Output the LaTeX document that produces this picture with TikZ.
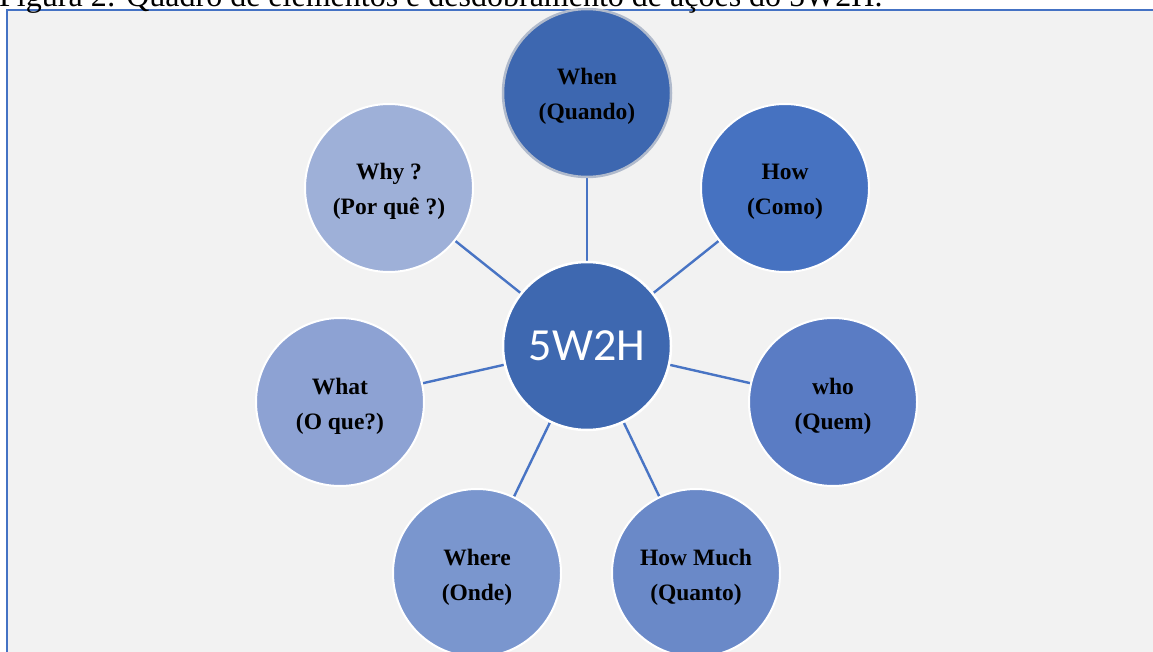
\documentclass[tikz,border=0pt]{standalone}
\usepackage{fontspec}
\setmainfont{Liberation Serif}
\newfontfamily\hubfont{Carlito}
\usetikzlibrary{backgrounds}
\newcommand\liftline{\rule{0pt}{24pt}}
\definecolor{pagegray}{RGB}{242,242,242}
\definecolor{frameblue}{RGB}{68,114,196}
\definecolor{linkblue}{RGB}{72,116,196}
\definecolor{hubfill}{RGB}{62,104,176}
\definecolor{whenfill}{RGB}{61,103,176}
\definecolor{whenring}{RGB}{176,186,204}
\definecolor{howfill}{RGB}{70,114,193}
\definecolor{whofill}{RGB}{90,124,196}
\definecolor{muchfill}{RGB}{106,137,200}
\definecolor{wherefill}{RGB}{122,150,206}
\definecolor{whatfill}{RGB}{141,162,211}
\definecolor{whyfill}{RGB}{158,176,216}
\begin{document}
\begin{tikzpicture}[x=1pt,y=-1pt,
  sat/.style={circle, minimum size=168pt, inner sep=0pt, draw=white, line width=2pt,
    font=\fontsize{23.5}{35}\selectfont\bfseries, align=center, text=black},
  hub/.style={circle, minimum size=168pt, inner sep=0pt, draw=white, line width=2.5pt,
    fill=hubfill, text=white, font=\hubfont\fontsize{46}{46}\selectfont},
  link/.style={draw=linkblue, line width=2.4pt},
  caption/.style={anchor=base west, inner sep=0pt, font=\fontsize{32}{36}\selectfont}]
\useasboundingbox (0,0) rectangle (1153,652);
\begin{scope}[on background layer]
  \path[fill=pagegray, draw=frameblue, line width=2pt] (7,10) rectangle (1170,670);
\end{scope}
\node[caption] (cap) at (-1,7) {Figura 2: Quadro de elementos e desdobramento de ações do 5W2H.};
\node[hub] (hub) at (587,346) {5W2H};
\node[sat, fill=whenfill, draw=whenring, line width=2.5pt] (when) at (587,93) {\liftline When\\(Quando)};
\node[sat, fill=howfill] (how) at (785,188) {\liftline How\\(Como)};
\node[sat, fill=whofill] (who) at (833,402) {\liftline who\\(Quem)};
\node[sat, fill=muchfill] (much) at (696,573) {\liftline How Much\\(Quanto)};
\node[sat, fill=wherefill] (where) at (477,573) {\liftline Where\\(Onde)};
\node[sat, fill=whatfill] (what) at (340,402) {\liftline What\\(O que?)};
\node[sat, fill=whyfill] (why) at (389,188) {\liftline Why ?\\(Por quê ?)};
\begin{scope}[on background layer]
  \foreach \s in {when,how,who,much,where,what,why}
    \draw[link] (hub) -- (\s);
\end{scope}
\end{tikzpicture}
\end{document}
